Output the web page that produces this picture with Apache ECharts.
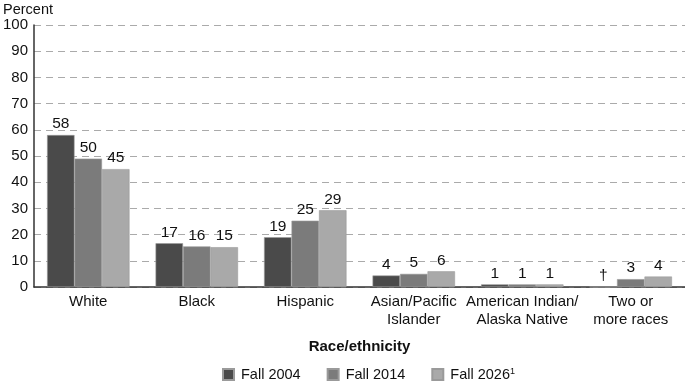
<!DOCTYPE html>
<html><head><meta charset="utf-8">
<script src="https://cdn.jsdelivr.net/npm/echarts@6/dist/echarts.min.js"></script>
<style>html,body{margin:0;padding:0;background:#fff}#c{width:685px;height:381px}</style>
</head><body><div id="c"></div>
<script>
const categories = ['White','Black','Hispanic','Asian/Pacific\nIslander','American Indian/\nAlaska Native','Two or\nmore races'];
const fall2004 = [58, 16.7, 19, 4.4, 1, null];
const fall2014 = [49, 15.5, 25.3, 5, 1, 3];
const fall2026 = [45, 15.2, 29.3, 6, 1, 4];
const labels2004 = ['58','17','19','4','1','†'];
const labels2014 = ['50','16','25','5','1','3'];
const labels2026 = ['45','15','29','6','1','4'];
const yTicks = [0,10,20,30,40,50,60,70,80,90,100];

const font = 'Liberation Sans, Arial, sans-serif';
function mk(name, data, labs, color){
  return {
    name, type:'bar', data: data.map((v,i)=> ({value: v === null ? 0 : v, lab: labs[i]})),
    barGap:'0%', barCategoryGap:'24%',
    itemStyle:{color, borderColor:'#9a9a9a', borderWidth:0.6},
    label:{show:true, position:'top', distance:3, color:'#111', fontFamily:font, fontSize:15.5,
      formatter: p => p.data.lab}
  };
}
const chart = echarts.init(document.getElementById('c'));
chart.setOption({
  animation:false,
  grid:{left:32, right:0, top:25, bottom:94},
  legend:{top:362, left:217, itemWidth:11, itemHeight:11, itemGap:26,
    icon:'rect',
    textStyle:{fontFamily:font, fontSize:14.5, color:'#111', padding:[0,0,0,2], rich:{sup:{fontSize:9, verticalAlign:'top', padding:[0,0,6,0], fontFamily:font, color:'#111'}}},
    formatter: n => n === 'Fall 2026' ? 'Fall 2026{sup|1}' : n,
    data:['Fall 2004','Fall 2014','Fall 2026']},
  xAxis:{type:'category', data:categories, name:'Race/ethnicity', nameLocation:'middle', nameGap:52,
    nameTextStyle:{fontFamily:font, fontSize:15, fontWeight:'bold', color:'#111'},
    axisLine:{lineStyle:{color:'#333', width:1.5}}, axisTick:{show:false},
    axisLabel:{fontFamily:font, fontSize:15, color:'#111', lineHeight:18, margin:6, interval:0}},
  yAxis:{type:'value', min:0, max:100, interval:10, name:'Percent', nameLocation:'end',
    nameGap:8, nameTextStyle:{fontFamily:font, fontSize:14.5, color:'#111', align:'left', padding:[0,0,0,-31]},
    axisLine:{show:true, lineStyle:{color:'#333', width:1.5}}, axisTick:{show:false},
    axisLabel:{fontFamily:font, fontSize:15, color:'#111', margin:6,
      formatter: v => yTicks.includes(v) ? String(v) : ''},
    splitLine:{lineStyle:{color:'#aaa', type:[7,5], width:1}}},
  series:[
    mk('Fall 2004', fall2004, labels2004, '#4a4a4a'),
    mk('Fall 2014', fall2014, labels2014, '#7b7b7b'),
    mk('Fall 2026', fall2026, labels2026, '#a9a9a9')
  ]
});
</script></body></html>
